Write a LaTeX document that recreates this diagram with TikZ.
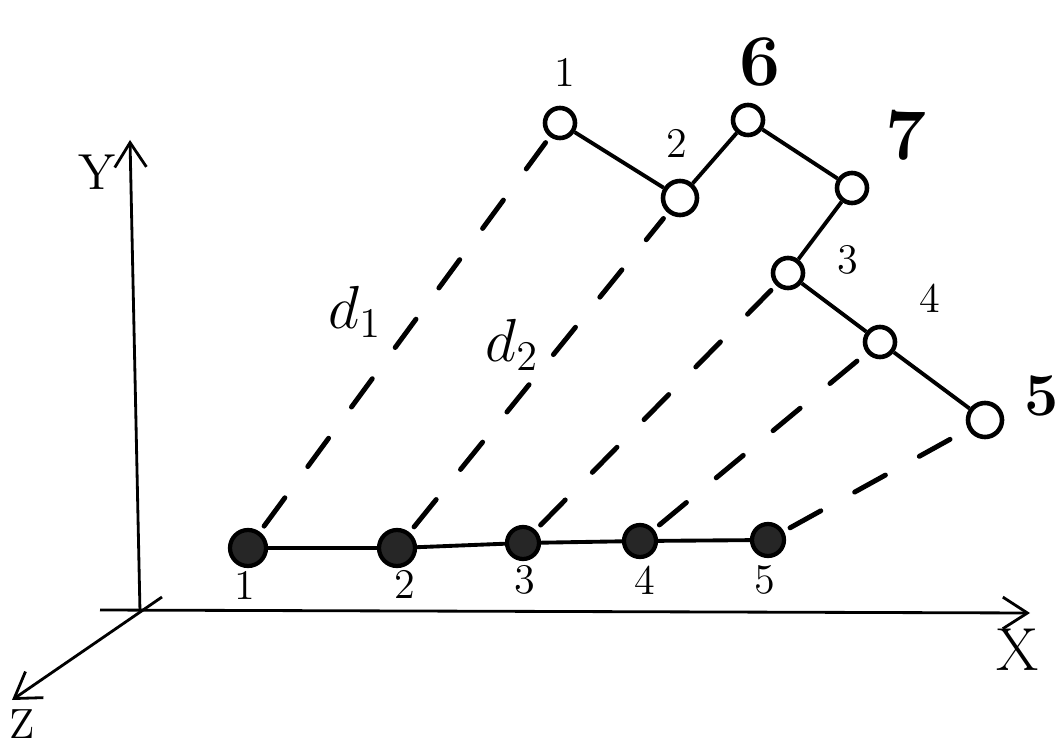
\documentclass[tikz,border=0pt]{standalone}
\usetikzlibrary{positioning,arrows.meta}
\begin{document}
\begin{tikzpicture}[
		x=0.01cm, y=-0.01cm,
		>={Straight Barb[length=7pt,width=9pt]},
		axisline/.style={->,line width=0.8pt},
		chainline/.style={line width=1.1pt},
		projline/.style={line width=1.4pt,dash pattern=on 10pt off 11pt,line cap=round,shorten <=2pt,shorten >=2pt},
		fullpt/.style={circle,draw,line width=1.2pt,fill=black!85,inner sep=0pt,minimum size=0.32cm},
		openpt/.style={circle,draw,line width=1.3pt,fill=white,inner sep=0pt,minimum size=0.3cm},
		numlabel/.style={font=\large,inner sep=1pt},
		biglabel/.style={font=\huge\bfseries,inner sep=1pt},
	]
	\useasboundingbox (0,0) rectangle (1061,746);

	% ---------- axes ----------
	\coordinate (o) at (140,612);
	\coordinate (xstart) at (100,610);
	\coordinate (xend) at (1030,613);
	\coordinate (yend) at (130,140);
	\coordinate (zstart) at (162,597);
	\coordinate (zend) at (12,700);
	\draw[axisline] (xstart) -- (xend);
	\draw[axisline] (o) -- (yend);
	\draw[axisline] (zstart) -- (zend);
	\node[font=\Large] (ylab) at (97,172) {Y};
	\node[font=\LARGE] (xlab) at (1018,650) {X};
	\node[font=\large] (zlab) at (22,724) {Z};

	% ---------- filled points on the line ----------
	\node[fullpt,minimum size=0.36cm] (b1) at (248,548) {};
	\node[fullpt,minimum size=0.36cm] (b2) at (397,548) {};
	\node[fullpt] (b3) at (523,543) {};
	\node[fullpt] (b4) at (640,541) {};
	\node[fullpt] (b5) at (768,540) {};
	\draw[chainline] (b1) -- (b2) -- (b3) -- (b4) -- (b5);
	\node[numlabel] at (245,585) {1};
	\node[numlabel] at (405,584) {2};
	\node[numlabel] at (525,580) {3};
	\node[numlabel] at (645,580) {4};
	\node[numlabel] at (765,580) {5};

	% ---------- open points of the chain ----------
	\node[openpt] (t1) at (560,123) {};
	\node[openpt,minimum size=0.34cm] (t2) at (680,198) {};
	\node[openpt] (t6) at (748,120) {};
	\node[openpt] (t7) at (852,188) {};
	\node[openpt] (t3) at (788,273) {};
	\node[openpt] (t4) at (880,342) {};
	\node[openpt,minimum size=0.34cm] (t5) at (985,420) {};
	\draw[chainline] (t1) -- (t2) -- (t6) -- (t7) -- (t3) -- (t4) -- (t5);
	\node[numlabel] at (565,72) {1};
	\node[numlabel] at (677,143) {2};
	\node[biglabel] at (760,62) {6};
	\node[biglabel] at (906,135) {7};
	\node[numlabel] at (848,260) {3};
	\node[numlabel] at (930,298) {4};
	\node[font=\LARGE\bfseries] at (1042,396) {5};

	% ---------- projections ----------
	\foreach \i in {1,...,5}
		\draw[projline] (b\i) -- (t\i);
	\node[font=\LARGE] (dist1) at (355,312) {$d_1$};
	\node[font=\LARGE] (dist2) at (512,345) {$d_2$};

\end{tikzpicture}
\end{document}
